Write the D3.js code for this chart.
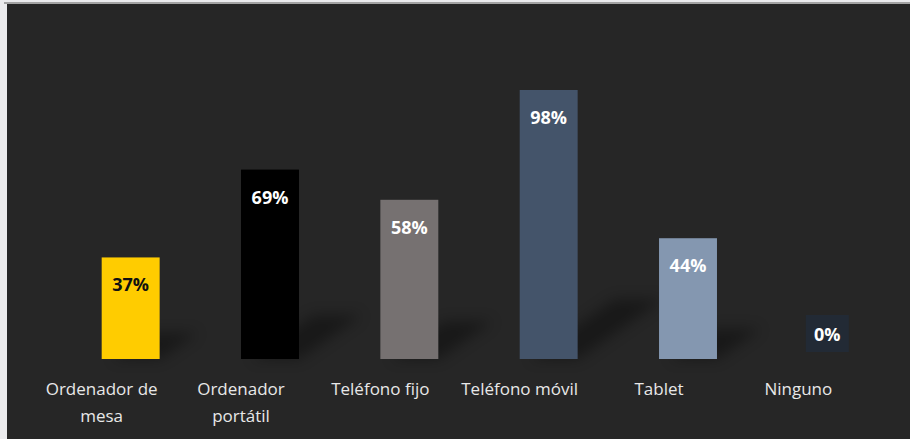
<!DOCTYPE html>
<html>
<head>
<meta charset="utf-8">
<script src="https://cdn.jsdelivr.net/npm/d3@7"></script>
<style>
  html, body { margin: 0; padding: 0; background: #ebebed; }
  svg { display: block; }
</style>
</head>
<body>
<script>
// datos del gráfico
const categories = ["Ordenador de mesa", "Ordenador portátil", "Teléfono fijo", "Teléfono móvil", "Tablet", "Ninguno"];
const values = [37, 69, 58, 98, 44, 0];
const barColors = ["#ffcc00", "#000000", "#767171", "#44546a", "#8497b0", "#222a35"];
const labelColors = ["#111111", "#ffffff", "#ffffff", "#ffffff", "#ffffff", "#ffffff"];

const w = 910;
const h = 439;

const svg = d3.select("body")
  .append("svg")
  .attr("width", w)
  .attr("height", h);

// fondo y borde superior
svg.append("rect")
  .attr("x", 4).attr("y", 2)
  .attr("width", w - 4).attr("height", 2)
  .attr("fill", "#a3a3a3");
svg.append("rect")
  .attr("x", 7).attr("y", 4)
  .attr("width", w - 7).attr("height", h - 4)
  .attr("fill", "#262626");

// sombra difuminada
const defs = svg.append("defs");
defs.append("filter")
  .attr("id", "blur")
  .attr("x", "-50%").attr("y", "-50%")
  .attr("width", "200%").attr("height", "200%")
  .append("feGaussianBlur")
  .attr("stdDeviation", 7);

const x = d3.scaleBand()
  .domain(categories)
  .range([61, 897])
  .paddingInner(0.584)
  .paddingOuter(0.292);

const y = d3.scaleLinear()
  .domain([0, 100])
  .range([359, 84.5]);

// sombras
svg.append("g")
  .selectAll("path")
  .data(values)
  .enter()
  .append("path")
  .attr("d", (d, i) => {
    const x0 = x(categories[i]) + 10;
    const x1 = x(categories[i]) + x.bandwidth();
    const hh = y(0) - y(d);
    const dx = hh * 0.28 + 10;
    const dy = hh * 0.2 + 6;
    return `M${x0},${y(0)} L${x1},${y(0)} L${x1 + dx},${y(0) - dy} L${x0 + dx},${y(0) - dy} Z`;
  })
  .attr("fill", "#000")
  .attr("opacity", d => d > 0 ? 0.35 : 0)
  .attr("filter", "url(#blur)");

// barras
svg.append("g")
  .selectAll("rect")
  .data(values)
  .enter()
  .append("rect")
  .attr("x", (d, i) => x(categories[i]))
  .attr("y", d => y(d))
  .attr("width", x.bandwidth())
  .attr("height", d => y(0) - y(d))
  .attr("fill", (d, i) => barColors[i]);

// caja de la etiqueta para el valor 0
const zeroIdx = values.indexOf(0);
svg.append("rect")
  .attr("x", x(categories[zeroIdx]) + x.bandwidth() / 2 - 21.5)
  .attr("y", y(0) - 44)
  .attr("width", 43)
  .attr("height", 37)
  .attr("fill", barColors[zeroIdx]);

// etiquetas de valores
svg.append("g")
  .selectAll("text")
  .data(values)
  .enter()
  .append("text")
  .attr("x", (d, i) => x(categories[i]) + x.bandwidth() / 2)
  .attr("y", d => d > 0 ? y(d) + 27 : y(0) - 25.5)
  .attr("text-anchor", "middle")
  .attr("dominant-baseline", "central")
  .style("font-family", "'Open Sans', sans-serif")
  .style("font-weight", "bold")
  .style("font-size", "18px")
  .attr("fill", (d, i) => labelColors[i])
  .text(d => d + "%");

// etiquetas de categorías (desplazadas a la izquierda como en el original)
const wrap = { "Ordenador de mesa": ["Ordenador de", "mesa"], "Ordenador portátil": ["Ordenador", "portátil"] };
const catShift = -29;
const catText = svg.append("g")
  .selectAll("text")
  .data(categories)
  .enter()
  .append("text")
  .attr("x", d => x(d) + x.bandwidth() / 2 + catShift)
  .attr("y", 395)
  .attr("text-anchor", "middle")
  .style("font-family", "'Open Sans', sans-serif")
  .style("font-size", "17px")
  .attr("fill", "#e8e8e8");

catText.selectAll("tspan")
  .data(d => wrap[d] || [d])
  .enter()
  .append("tspan")
  .attr("x", function() { return d3.select(this.parentNode).attr("x"); })
  .attr("dy", (d, i) => i === 0 ? 0 : 27)
  .text(d => d);
</script>
</body>
</html>
